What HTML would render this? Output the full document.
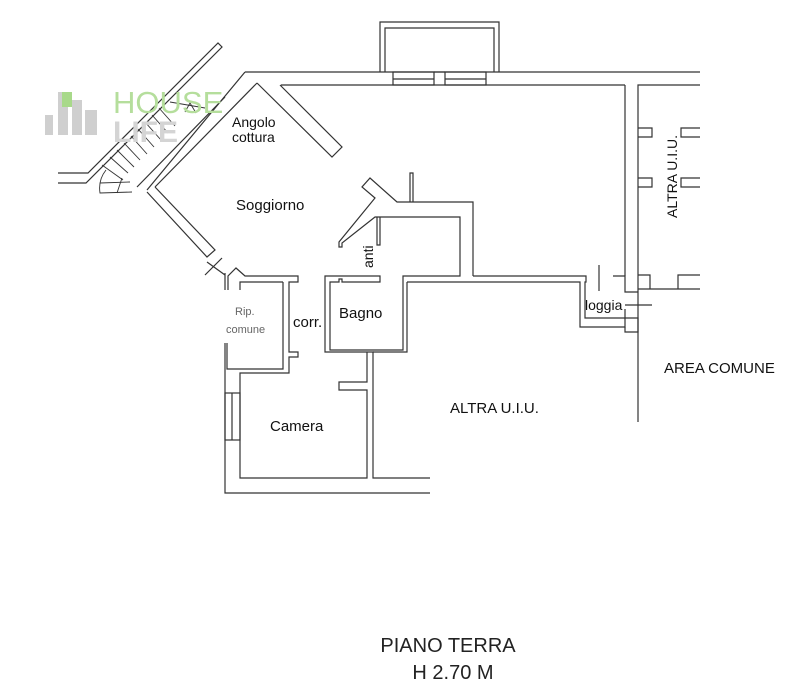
<!DOCTYPE html>
<html><head><meta charset="utf-8"><style>
html,body{margin:0;padding:0;background:#fff;}
svg{display:block;}
text{font-family:"Liberation Sans",Arial,sans-serif;fill:#111;}
</style></head><body>
<svg width="800" height="697" viewBox="0 0 800 697" xmlns="http://www.w3.org/2000/svg">
<g fill="none" stroke="#333" stroke-width="1.2">
<polyline points="380,72 380,22 499,22 499,72"/>
<polyline points="385,72 385,28 494,28 494,72"/>
<line x1="245" y1="72" x2="700" y2="72"/>
<line x1="281" y1="85" x2="625" y2="85"/>
<rect x="393" y="72" width="41" height="13"/><line x1="393" y1="79" x2="434" y2="79"/>
<rect x="445" y="72" width="41" height="13"/><line x1="445" y1="79" x2="486" y2="79"/>
<line x1="434" y1="72" x2="445" y2="72"/>
<polyline points="625,85 625,276"/>
<polyline points="638,289 638,85 700,85"/>
<line x1="638" y1="289" x2="638" y2="422"/>
<polyline points="638,128 652,128 652,137 638,137"/>
<polyline points="638,178 652,178 652,187 638,187"/>
<polyline points="700,128 681,128 681,137 700,137"/>
<polyline points="700,178 681,178 681,187 700,187"/>
<polyline points="638,275 650,275 650,289"/>
<polyline points="700,275 678,275 678,289"/>
<line x1="638" y1="289" x2="700" y2="289"/>
<polyline points="473,276 586,276 586,282 585,282 585,318 625,318 625,327 580,327 580,282 407,282"/>
<polyline points="613,276 625,276 625,282 625,292 638,292"/>
<polyline points="625,309 625,318 638,318 638,332 625,332 625,327"/>
<line x1="599" y1="265" x2="599" y2="291"/>
<line x1="625" y1="305" x2="652" y2="305"/>
<polyline points="473,276 473,202 397,202 370,178 362,187 375,198 339,242 339,247 342,247 342,243 375,217 460,217 460,276 403,276 403,350 330,350 330,282 339,282 339,279 342,279 342,282 380,282 380,276 325,276 325,352 373,352 373,478 430,478"/>
<polyline points="407,282 407,352 373,352"/>
<polyline points="377,217 377,245 380,245 380,217"/>
<polyline points="410,202 410,173 413,173 413,202"/>
<polyline points="367,352 367,382 339,382 339,390 367,390 367,478 240,478 240,373 289,373 289,357 298,357 298,352 289,352 289,282 298,282 298,276 245,276 236,268 228,276 228,290"/>
<polyline points="283,282 240,282 240,290"/>
<polyline points="283,282 283,369 227,369 227,343"/>
<polyline points="225,343 225,493 430,493"/>
<rect x="225" y="393" width="15" height="47"/><line x1="232" y1="393" x2="232" y2="440"/>
<polyline points="245,72 147,190"/>
<polyline points="257,83 155,187"/>
<polyline points="147,192 207,257 215,250 155,187"/>
<polyline points="257,83 332,157 342,147 280,85"/>
<line x1="207" y1="262" x2="225" y2="275"/>
<line x1="205" y1="275" x2="222" y2="258"/>
<line x1="225" y1="273" x2="225" y2="290"/>
<polyline points="58,173 88,173 218,43 222,47 86,183 58,183"/>
<polyline points="137,187 225,97"/>
<g stroke-width="0.9">
<line x1="102" y1="165" x2="123" y2="180"/><line x1="110" y1="157" x2="128" y2="173"/>
<line x1="117" y1="150" x2="134" y2="167"/><line x1="124" y1="143" x2="140" y2="160"/>
<line x1="131" y1="136" x2="147" y2="154"/><line x1="138" y1="129" x2="154" y2="147"/>
<line x1="145" y1="122" x2="161" y2="140"/><line x1="152" y1="115" x2="168" y2="133"/>
<line x1="159" y1="108" x2="175" y2="126"/><line x1="170" y1="102" x2="205" y2="108"/>
<path d="M106,170 Q98,180 100,193 L132,192"/>
<line x1="100" y1="183" x2="130" y2="182"/>
<line x1="117" y1="193" x2="122" y2="178"/>
<path d="M185,112 L190,103 L196,113"/>
</g>
</g>
<g fill="#cfcfcf">
<rect x="45" y="115" width="8" height="20"/><rect x="58" y="92" width="10" height="43"/>
<rect x="72" y="100" width="10" height="35"/><rect x="85" y="110" width="12" height="25"/>
</g>
<rect x="62" y="92" width="10" height="15" fill="#a8d98a"/>
<text x="113" y="113" font-size="31" style="fill:#b5de9c">HOUSE</text>
<text x="113" y="142" font-size="30" font-weight="bold" style="fill:#d4d4d4">LIFE</text>
<text x="232" y="127" font-size="14">Angolo</text>
<text x="232" y="142" font-size="14">cottura</text>
<text x="236" y="210" font-size="15">Soggiorno</text>
<text x="235" y="315" font-size="11" style="fill:#666">Rip.</text>
<text x="226" y="333" font-size="11" style="fill:#666">comune</text>
<text x="293" y="327" font-size="15">corr.</text>
<text x="339" y="318" font-size="15">Bagno</text>
<text x="270" y="431" font-size="15">Camera</text>
<text x="450" y="413" font-size="15">ALTRA U.I.U.</text>
<text x="585" y="310" font-size="14">loggia</text>
<text x="664" y="373" font-size="15">AREA COMUNE</text>
<text transform="translate(373,268) rotate(-90)" font-size="14">anti</text>
<text transform="translate(677,218) rotate(-90)" font-size="14">ALTRA U.I.U.</text>
<text x="448" y="652" font-size="20" text-anchor="middle" style="fill:#222">PIANO TERRA</text>
<text x="453" y="679" font-size="20" text-anchor="middle" style="fill:#222">H 2.70 M</text>
</svg>
</body></html>
